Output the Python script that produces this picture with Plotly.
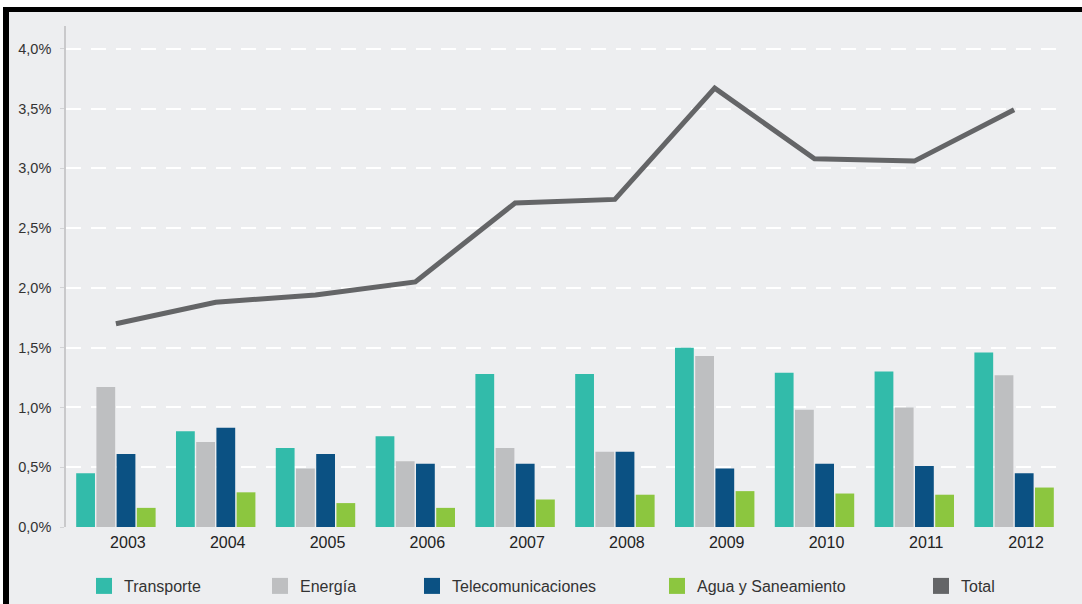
import plotly.graph_objects as go

years = ["2003", "2004", "2005", "2006", "2007", "2008", "2009", "2010", "2011", "2012"]
transporte = [0.45, 0.80, 0.66, 0.76, 1.28, 1.28, 1.50, 1.29, 1.30, 1.46]
energia = [1.17, 0.71, 0.49, 0.55, 0.66, 0.63, 1.43, 0.98, 1.00, 1.27]
telecom = [0.61, 0.83, 0.61, 0.53, 0.53, 0.63, 0.49, 0.53, 0.51, 0.45]
agua = [0.16, 0.29, 0.20, 0.16, 0.23, 0.27, 0.30, 0.28, 0.27, 0.33]
total = [1.70, 1.88, 1.94, 2.05, 2.71, 2.74, 3.67, 3.08, 3.06, 3.49]

names = ["Transporte", "Energía", "Telecomunicaciones", "Agua y Saneamiento", "Total"]
colors = ["#32bbaa", "#bebfc1", "#0b5183", "#8cc63f", "#646567"]
ytickvals = [0, 0.5, 1.0, 1.5, 2.0, 2.5, 3.0, 3.5, 4.0]
yticktext = ["0,0%", "0,5%", "1,0%", "1,5%", "2,0%", "2,5%", "3,0%", "3,5%", "4,0%"]

W, H = 1082, 604
L, R, T, B = 66, 18, 26, 77
PW, PH = W - L - R, H - T - B
BG = "#edeef0"

def px_x(px):
    return (px - L) / PW

def px_y(py):
    return (H - B - py) / PH

fig = go.Figure()
for name, vals, col in zip(names[:4], [transporte, energia, telecom, agua], colors[:4]):
    fig.add_trace(go.Bar(x=years, y=vals, name=name, marker=dict(color=col, line=dict(width=0)),
                         showlegend=False))
fig.add_trace(go.Scatter(x=years, y=total, name="Total", mode="lines",
                         line=dict(color=colors[4], width=5), showlegend=False))

legend_left_px = [84, 260, 412, 657, 921]
legend_keys = ["legend", "legend2", "legend3", "legend4", "legend5"]
for name, col, key in zip(names, colors, legend_keys):
    fig.add_trace(go.Scatter(x=[None], y=[None], mode="markers", name=name,
                             marker=dict(symbol="square", size=16, color=col),
                             legend=key, showlegend=True))

legend_common = dict(orientation="h", bgcolor="rgba(0,0,0,0)", borderwidth=0,
                     font=dict(family="Liberation Sans, Arial", size=16, color="#333333"),
                     yanchor="middle", xanchor="left", itemsizing="trace",
                     xref="container", yref="container")
layout_legends = {}
for key, lx in zip(legend_keys, legend_left_px):
    layout_legends[key] = dict(legend_common, x=lx / W, y=1 - 586 / H)

shapes = [
    dict(type="rect", xref="paper", yref="paper", x0=px_x(0), x1=px_x(W), y0=px_y(7), y1=px_y(0),
         fillcolor="white", line=dict(width=0), layer="above"),
    dict(type="rect", xref="paper", yref="paper", x0=px_x(0), x1=px_x(3), y0=px_y(H), y1=px_y(0),
         fillcolor="white", line=dict(width=0), layer="above"),
    dict(type="rect", xref="paper", yref="paper", x0=px_x(3), x1=px_x(W), y0=px_y(12), y1=px_y(7),
         fillcolor="black", line=dict(width=0), layer="above"),
    dict(type="rect", xref="paper", yref="paper", x0=px_x(3), x1=px_x(9), y0=px_y(H), y1=px_y(7),
         fillcolor="black", line=dict(width=0), layer="above"),
]

fig.update_layout(
    width=W, height=H,
    margin=dict(l=L, r=R, t=T, b=B, pad=0, autoexpand=False),
    paper_bgcolor=BG, plot_bgcolor=BG,
    separators=",.",
    barmode="group", bargap=0.19, bargroupgap=0.07,
    font=dict(family="Liberation Sans, Arial", color="#333333"),
    shapes=shapes,
    **layout_legends,
)
fig.update_xaxes(type="category", range=[-0.5, 9.5], showline=False, showgrid=False,
                 ticks="", tickfont=dict(size=16, color="#222222"),
                 ticklabelshift=12, ticklabelstandoff=4, zeroline=False)
fig.update_yaxes(range=[0, 4.19], tickvals=ytickvals, ticktext=yticktext,
                 showline=True, linecolor="#c9c9cb", linewidth=1.5,
                 ticks="outside", ticklen=4, tickcolor="#d2d3d5", tickwidth=1,
                 ticklabelstandoff=6,
                 tickfont=dict(size=14.5, color="#333333"),
                 showgrid=True, gridcolor="white", gridwidth=2, griddash="15px,10px",
                 zeroline=False)

fig.write_html("out.html")
